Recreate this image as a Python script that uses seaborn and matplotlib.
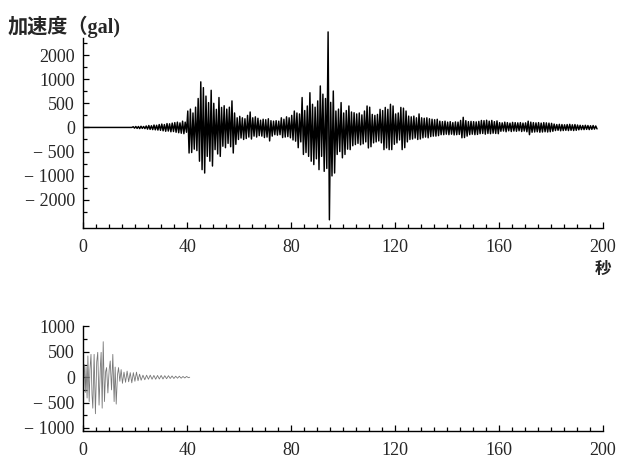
import numpy as np
import pandas as pd
import matplotlib
matplotlib.use("Agg")
import matplotlib.pyplot as plt
import seaborn as sns
from matplotlib.ticker import FixedLocator, MultipleLocator

# upper record: largest positive / negative swing in each 1 s window (gal), 0-197 s
peak_up = [0, 0, 0, 0, 0, 0, 0, 0, 0, 0,
           0, 0, 0, 0, 0, 0, 0, 0, 0, 15,
           20, 20, 25, 20, 30, 40, 35, 50, 45, 60,
           70, 60, 80, 75, 90, 100, 110, 95, 130, 110,
           340, 380, 300, 420, 600, 945, 825, 650, 515, 770,
           500, 375, 620, 415, 450, 380, 420, 550, 300, 200,
           230, 200, 180, 250, 320, 200, 220, 190, 150, 170,
           160, 180, 140, 130, 140, 130, 200, 170, 220, 200,
           250, 340, 300, 280, 620, 350, 445, 720, 480, 420,
           550, 860, 690, 600, 2960, 520, 755, 340, 380, 515,
           300, 350, 445, 320, 305, 280, 300, 260, 340, 445,
           420, 270, 250, 270, 375, 350, 415, 375, 480, 445,
           280, 300, 415, 400, 340, 235, 220, 235, 200, 280,
           200, 190, 200, 180, 170, 160, 170, 130, 120, 130,
           110, 120, 100, 115, 110, 145, 210, 140, 120, 125,
           120, 115, 125, 145, 140, 150, 130, 145, 120, 135,
           100, 95, 110, 100, 90, 105, 100, 95, 100, 90,
           95, 130, 110, 100, 95, 100, 90, 100, 95, 90,
           85, 70, 60, 65, 60, 55, 60, 65, 55, 60,
           50, 45, 40, 45, 40, 35, 40, 30]
peak_down = [0, 0, 0, 0, 0, 0, 0, 0, 0, 0,
             0, 0, 0, 0, 0, 0, 0, 0, 0, -15,
             -20, -25, -20, -25, -35, -40, -45, -50, -55, -60,
             -70, -80, -75, -90, -85, -100, -110, -120, -130, -100,
             -530, -520, -450, -480, -700, -875, -945, -600, -700, -800,
             -460, -550, -600, -390, -420, -330, -400, -530, -350, -250,
             -220, -250, -230, -200, -240, -180, -200, -170, -180, -210,
             -200, -280, -180, -150, -160, -150, -210, -200, -190, -215,
             -260, -285, -420, -300, -560, -520, -600, -700, -770, -650,
             -875, -600, -910, -850, -2830, -1010, -945, -560, -500, -630,
             -560, -450, -460, -380, -355, -330, -360, -340, -300, -425,
             -400, -320, -300, -280, -320, -460, -425, -460, -460, -350,
             -320, -260, -460, -420, -300, -250, -240, -220, -250, -240,
             -215, -200, -215, -190, -180, -180, -170, -150, -150, -140,
             -150, -140, -155, -150, -145, -215, -210, -180, -150, -140,
             -150, -145, -130, -125, -140, -125, -130, -120, -125, -130,
             -80, -75, -90, -70, -85, -75, -80, -70, -85, -75,
             -90, -150, -100, -95, -90, -100, -95, -90, -95, -90,
             -80, -65, -60, -70, -65, -60, -65, -60, -65, -60,
             -50, -45, -45, -40, -45, -40, -35, -30]

# lower record: turning points of the trace (s, gal)
low_t = [0.0, 0.4, 0.8, 1.1, 1.5, 1.8, 2.3, 2.6, 3.0, 3.4, 3.7, 4.2, 4.7, 5.2,
         5.6, 6.1, 6.6, 6.9, 7.3, 7.7, 8.2, 8.6, 9.0, 9.5, 10.0, 10.4, 10.9,
         11.4, 11.9, 12.3, 12.7, 13.2, 13.6, 14.1, 14.6, 15.1, 15.7, 16.3,
         16.9, 17.5, 18.1, 18.7, 19.3, 19.9, 20.5, 21.1, 21.7, 22.3, 23.0,
         23.7, 24.4, 25.1, 25.8, 26.5, 27.2, 27.9, 28.6, 29.3, 30.0, 30.7,
         31.4, 32.1, 32.8, 33.5, 34.2, 34.9, 35.6, 36.3, 37.0, 37.7, 38.4,
         39.1, 39.8, 40.5, 41.0]
low_v = [0, 250, -300, 200, -410, 420, -480, 150, 450, -350, -610, 450, -720,
         300, 490, -550, 200, 490, -610, 700, -480, 100, 190, -310, 150, 320,
         -250, 450, -480, 200, -530, 50, 190, -80, 150, -120, 100, -100, 120,
         -90, 90, -110, 90, -80, 100, -70, 60, -60, 40, -50, 40, -40, 40, -40,
         35, -40, 35, -35, 35, -35, 30, -30, 30, -25, 25, -25, 20, -20, 20,
         -20, 15, -15, 15, -10, 0]

x_ticks = [0, 40, 80, 120, 160, 200]
top_ticks = [-2000, -1000, -500, 0, 500, 1000, 2000]
top_minor = [-2500, -1500, -750, -250, 250, 750, 1500, 2500]
low_ticks = [-1000, -500, 0, 500, 1000]

sec = np.arange(len(peak_up))
top = pd.DataFrame({
    "t": np.column_stack([sec + 0.25, sec + 0.75]).ravel(),
    "gal": np.column_stack([peak_up, peak_down]).ravel(),
})
low = pd.DataFrame({"t": low_t, "gal": low_v})


def squash(v):
    v = np.asarray(v, dtype=float)
    a = np.abs(v)
    return np.where(a <= 1000, v, np.sign(v) * (1000 + (a - 1000) / 2))


def unsquash(f):
    f = np.asarray(f, dtype=float)
    a = np.abs(f)
    return np.where(a <= 1000, f, np.sign(f) * (1000 + (a - 1000) * 2))


def fmt(v):
    return ("\u2212 " + str(-v)) if v < 0 else str(v)


sns.set_style("white")
plt.rcParams["font.family"] = ["Liberation Serif", "Noto Sans CJK JP"]

fig = plt.figure(figsize=(6.4, 4.69), dpi=100)
ax1 = fig.add_axes([0.13, 0.514, 0.812, 0.405])
ax2 = fig.add_axes([0.13, 0.081, 0.812, 0.224])

sns.lineplot(data=top, x="t", y="gal", ax=ax1, color="black", lw=1.05,
             estimator=None, sort=False)
sns.lineplot(data=low, x="t", y="gal", ax=ax2, color="#777777", lw=0.6,
             estimator=None, sort=False)
for l in ax1.lines:
    l.set_clip_on(False)

ax1.set_yscale("function", functions=(squash, unsquash))
ax1.set_ylim(-3166, 2708)
ax1.yaxis.set_major_locator(FixedLocator(top_ticks))
ax1.yaxis.set_minor_locator(FixedLocator(top_minor))
ax1.set_yticklabels([fmt(v) for v in top_ticks])

ax2.set_ylim(-1060, 1010)
ax2.yaxis.set_major_locator(FixedLocator(low_ticks))
ax2.yaxis.set_minor_locator(MultipleLocator(250))
ax2.set_yticklabels([fmt(v) for v in low_ticks])

for ax in (ax1, ax2):
    ax.set_xlim(0, 200)
    ax.xaxis.set_major_locator(FixedLocator(x_ticks))
    ax.xaxis.set_minor_locator(MultipleLocator(5))
    ax.set_xticklabels([str(v) for v in x_ticks])
    ax.set_xlabel("")
    ax.set_ylabel("")
    for s in ("top", "right"):
        ax.spines[s].set_visible(False)
    for s in ("left", "bottom"):
        ax.spines[s].set_linewidth(1.0)
        ax.spines[s].set_color("black")
    ax.tick_params(which="both", direction="in", width=0.9, color="black",
                   labelsize=13, left=True, bottom=True)
    ax.tick_params(which="major", length=4)
    ax.tick_params(which="minor", length=3)
    ax.tick_params(axis="x", pad=8)
    ax.tick_params(axis="y", pad=6)

fig.text(0.012, 0.943, "加速度（gal)", fontsize=14.5, fontweight="bold",
         va="center", ha="left")
fig.text(0.942, 0.424, "秒", fontsize=12, fontweight="bold",
         va="center", ha="center")

fig.savefig("out.png", dpi=100)
